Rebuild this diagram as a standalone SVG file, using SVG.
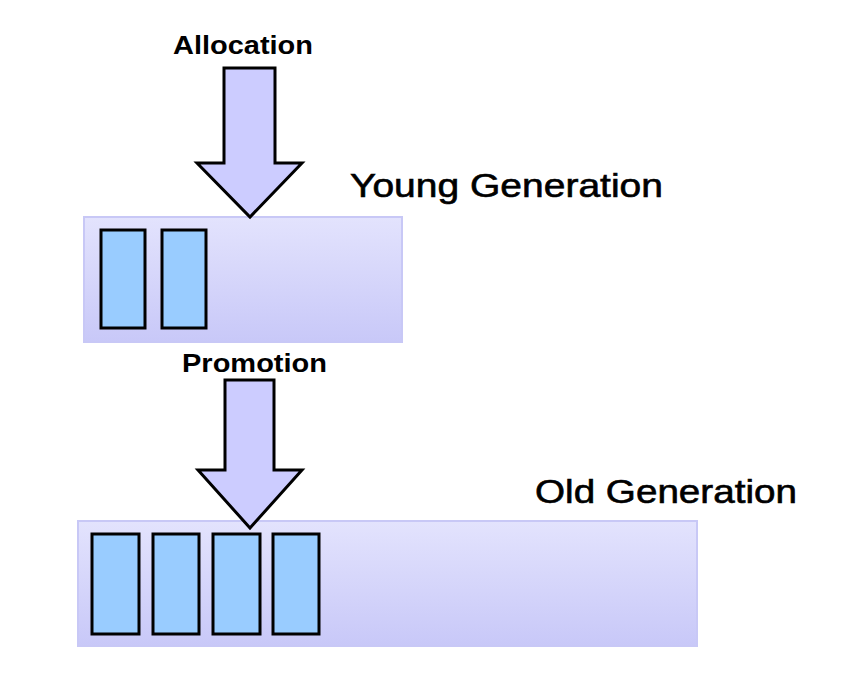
<svg xmlns="http://www.w3.org/2000/svg" width="867" height="692" viewBox="0 0 867 692">
  <defs>
    <linearGradient id="genGrad" x1="0" y1="0" x2="0" y2="1">
      <stop offset="0" stop-color="#e3e3fd"/>
      <stop offset="1" stop-color="#c8c8f8"/>
    </linearGradient>
    <style>
      .gen { fill: url(#genGrad); stroke: #c8c8f6; stroke-width: 2; }
      .obj { fill: #99ccff; stroke: #000; stroke-width: 3; }
      .arrow { fill: #ccccff; stroke: #000; stroke-width: 3; stroke-linejoin: miter; }
      .lbl { font-family: "Liberation Sans", Arial, sans-serif; font-weight: bold; font-size: 26px; fill: #000; }
      .title { font-family: "Liberation Sans", Arial, sans-serif; font-size: 33px; fill: #000; stroke: #000; stroke-width: 0.6px; }
    </style>
  </defs>
  <rect width="867" height="692" fill="#fff"/>

  <g id="young-generation">
    <rect class="gen" x="84" y="217" width="318" height="125"/>
    <rect class="obj" x="101" y="230" width="44" height="98"/>
    <rect class="obj" x="162" y="230" width="44" height="98"/>
    <text class="title" x="350" y="197" textLength="313" lengthAdjust="spacingAndGlyphs">Young Generation</text>
  </g>

  <g id="old-generation">
    <rect class="gen" x="78" y="521" width="619" height="125"/>
    <rect class="obj" x="92" y="534" width="47" height="100"/>
    <rect class="obj" x="153" y="534" width="46" height="100"/>
    <rect class="obj" x="213" y="534" width="47" height="100"/>
    <rect class="obj" x="273" y="534" width="46" height="100"/>
    <text class="title" x="535" y="503" textLength="262" lengthAdjust="spacingAndGlyphs">Old Generation</text>
  </g>

  <g id="connectors">
    <g id="allocation">
      <polygon class="arrow" points="224,68 275,68 275,163 302,163 250,217 197,163 224,163"/>
      <text class="lbl" x="173" y="54" textLength="140" lengthAdjust="spacingAndGlyphs">Allocation</text>
    </g>
    <g id="promotion">
      <polygon class="arrow" points="225,380 274,380 274,470 302,470 250,528 198,470 225,470"/>
      <text class="lbl" x="182" y="372" textLength="145" lengthAdjust="spacingAndGlyphs">Promotion</text>
    </g>
  </g>
</svg>
